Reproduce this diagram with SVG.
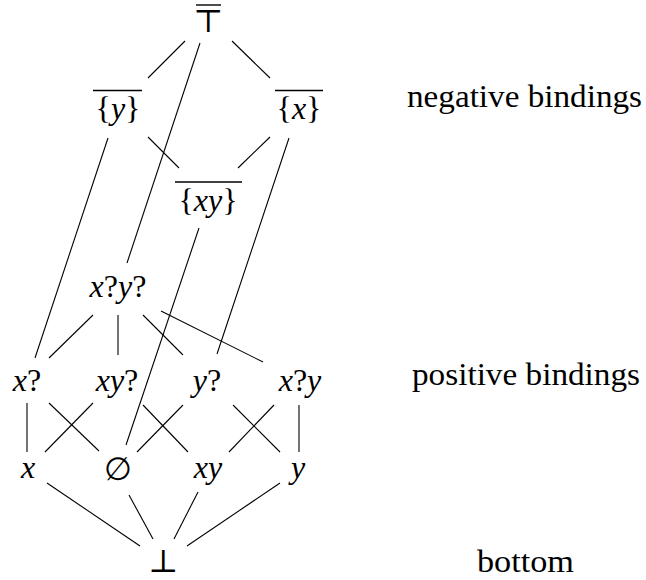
<svg xmlns="http://www.w3.org/2000/svg" width="646" height="580" viewBox="0 0 646 580">
<style>
.m{font-size:32px;text-anchor:middle;fill:#000}
.i{font-style:italic}
.lbl{font-size:31px;fill:#000}
.ov{stroke:#000;stroke-width:1.4}
#edges line{stroke:#000;stroke-width:1.1}
</style>
<rect width="646" height="580" fill="#fff"/>
<g id="edges">
<line x1="185" y1="41" x2="148" y2="78"/>
<line x1="232" y1="41" x2="270" y2="78"/>
<line x1="200" y1="43" x2="127" y2="263"/>
<line x1="148" y1="137" x2="179" y2="168"/>
<line x1="270" y1="137" x2="238" y2="168"/>
<line x1="108" y1="138" x2="35" y2="358"/>
<line x1="289" y1="138" x2="217" y2="354"/>
<line x1="199" y1="228" x2="126" y2="445"/>
<line x1="93" y1="315" x2="49" y2="358"/>
<line x1="118" y1="315" x2="118" y2="355"/>
<line x1="143" y1="315" x2="183" y2="355"/>
<line x1="161" y1="311" x2="263" y2="362"/>
<line x1="27" y1="403" x2="27" y2="452"/>
<line x1="49" y1="403" x2="99" y2="451"/>
<line x1="93" y1="403" x2="45" y2="452"/>
<line x1="143" y1="405" x2="188" y2="452"/>
<line x1="183" y1="405" x2="137" y2="452"/>
<line x1="233" y1="405" x2="280" y2="452"/>
<line x1="274" y1="405" x2="229" y2="452"/>
<line x1="299" y1="405" x2="299" y2="452"/>
<line x1="47" y1="483" x2="140" y2="546"/>
<line x1="129" y1="495" x2="153" y2="539"/>
<line x1="198" y1="492" x2="174" y2="539"/>
<line x1="280" y1="483" x2="187" y2="546"/>
</g>
<g font-family="Liberation Serif, Times New Roman, serif">
<g id="top">
<line class="ov" x1="196" y1="5" x2="221" y2="5"/>
<text class="m" x="208" y="32" font-family="DejaVu Serif, serif" font-size="36">⊤</text>
</g>
<g id="neg_y">
<line class="ov" x1="93" y1="90.5" x2="142" y2="90.5"/>
<text class="m" x="118" y="119">{<tspan class="i">y</tspan>}</text>
</g>
<g id="neg_x">
<line class="ov" x1="275" y1="90.5" x2="323" y2="90.5"/>
<text class="m" x="299" y="119">{<tspan class="i">x</tspan>}</text>
</g>
<g id="neg_xy">
<line class="ov" x1="175" y1="182" x2="242" y2="182"/>
<text class="m" x="208" y="211">{<tspan class="i">xy</tspan>}</text>
</g>
<g id="xqyq">
<text class="m" x="118" y="297"><tspan class="i">x</tspan>?<tspan class="i">y</tspan>?</text>
</g>
<g id="xq">
<text class="m" x="27" y="391"><tspan class="i">x</tspan>?</text>
</g>
<g id="xyq">
<text class="m" x="117" y="391"><tspan class="i">xy</tspan>?</text>
</g>
<g id="yq">
<text class="m" x="207" y="391"><tspan class="i">y</tspan>?</text>
</g>
<g id="xqy">
<text class="m" x="300" y="391"><tspan class="i">x</tspan>?<tspan class="i">y</tspan></text>
</g>
<g id="x">
<text class="m i" x="28" y="478">x</text>
</g>
<g id="empty">
<text class="m" x="118" y="480" font-family="DejaVu Serif, serif" font-size="28">∅</text>
</g>
<g id="xy">
<text class="m i" x="208" y="478">xy</text>
</g>
<g id="y">
<text class="m i" x="298" y="478">y</text>
</g>
<g id="bot">
<text class="m" x="163" y="572" font-family="DejaVu Serif, serif" font-size="36">⊥</text>
</g>
<g id="labels">
<text class="lbl" x="407" y="107" textLength="235" lengthAdjust="spacingAndGlyphs">negative bindings</text>
<text class="lbl" x="412" y="385" textLength="228" lengthAdjust="spacingAndGlyphs">positive bindings</text>
<text class="lbl" x="477" y="572" textLength="97" lengthAdjust="spacingAndGlyphs">bottom</text>
</g>
</g>
</svg>
